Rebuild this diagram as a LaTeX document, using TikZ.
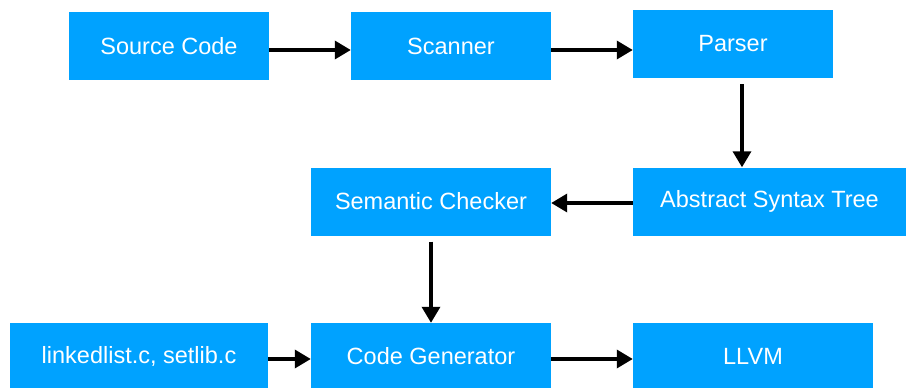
\documentclass[tikz,border=0pt]{standalone}
\usepackage{fontspec}
\setmainfont{Liberation Sans}
\usetikzlibrary{positioning, calc, arrows.meta}

\definecolor{stageblue}{RGB}{0,162,255}

\tikzset{
  stage/.style={rectangle, fill=stageblue, text=white, inner sep=0pt,
    minimum height=68pt, font=\fontsize{23.5}{28}\selectfont},
  flow/.style={line width=3.5pt, -{Triangle[length=16pt,width=18pt]}}
}

\begin{document}
\begin{tikzpicture}[x=1pt, y=-1pt]
\useasboundingbox (0,0) rectangle (906,388);

\draw 	(169,46) node[stage, minimum width=200pt](src){Source Code}
		(451,46) node[stage, minimum width=200pt](scan){Scanner}
		(733,44) node[stage, minimum width=200pt](parse){Parser};
\draw 	(769.5,201.5) node[stage, minimum width=273pt](ast){Abstract Syntax Tree}
		(431,201.5) node[stage, minimum width=240pt](sem){Semantic Checker};
\draw 	(139,356) node[stage, minimum width=258pt, minimum height=66pt](libs){linkedlist.c, setlib.c}
		(431,356) node[stage, minimum width=240pt, minimum height=66pt](gen){Code Generator}
		(753,356) node[stage, minimum width=240pt, minimum height=66pt](llvm){LLVM};

% pipeline
\path[flow]
    ([yshift=-4pt]src.east) edge node {} ([yshift=-4pt]src.east -| scan.west)
    ([yshift=-4pt]scan.east) edge node {} ([yshift=-4pt]scan.east -| parse.west)
    ([xshift=9pt]parse.south) edge[shorten <=6pt] node {} ([xshift=9pt]parse.south |- ast.north)
    ([yshift=-1.5pt]ast.west) edge node {} ([yshift=-1.5pt]ast.west -| sem.east)
    (sem.south) edge[shorten <=6pt] node {} (gen.north)
    ([yshift=-3pt]libs.east) edge node {} ([yshift=-3pt]libs.east -| gen.west)
    ([yshift=-3pt]gen.east) edge node {} ([yshift=-3pt]gen.east -| llvm.west);
\end{tikzpicture}
\end{document}
